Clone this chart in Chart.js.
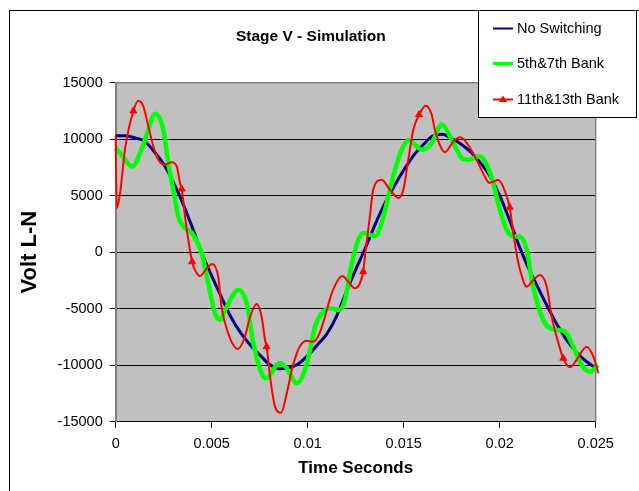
<!DOCTYPE html>
<html>
<head>
<meta charset="utf-8">
<script src="https://cdn.jsdelivr.net/npm/chart.js@4/dist/chart.umd.min.js"></script>
<style>
  html, body { margin: 0; padding: 0; background: #fff; }
  #c1 { display: block; }
</style>
</head>
<body>
<canvas id="c1" width="639" height="491"></canvas>
<script>
// values (seconds, volts)
const noSwitchTime = [0, 0.0005, 0.001, 0.0015, 0.002, 0.0025, 0.003, 0.0035, 0.004, 0.0045,
  0.005, 0.0055, 0.006, 0.0065, 0.007, 0.0075, 0.008, 0.0085, 0.009, 0.0095,
  0.01, 0.0105, 0.011, 0.0115, 0.012, 0.0125, 0.013, 0.0135, 0.014, 0.0145,
  0.015, 0.0155, 0.016, 0.0165, 0.017, 0.0175, 0.018, 0.0185, 0.019, 0.0195,
  0.02, 0.0205, 0.021, 0.0215, 0.022, 0.0225, 0.023, 0.0235, 0.024, 0.0245, 0.025];
const noSwitchVolts = [10310, 10310, 10120, 9830, 8910, 7780, 6200, 4300, 2150, -150,
  -2100, -3950, -5740, -7120, -8190, -9080, -9910, -10310, -10250, -9900,
  -9150, -8210, -7230, -5670, -3550, -1550, 350, 2400, 4250, 5830,
  7260, 8530, 9480, 10280, 10440, 10080, 9560, 8850, 7900, 6700,
  5000, 2900, 600, -1400, -3150, -4850, -6450, -7800, -8850, -9650, -10250];

const bank57Time = [0, 0.0003, 0.00085, 0.00153, 0.00206, 0.00248, 0.00274, 0.003, 0.00326, 0.00352,
  0.00404, 0.00451, 0.00482, 0.00517, 0.00543, 0.00569, 0.00639, 0.00682, 0.00717, 0.0076,
  0.00786, 0.00838, 0.00856, 0.00891, 0.00943, 0.00986, 0.01012, 0.01038, 0.01081, 0.01116,
  0.01168, 0.01194, 0.0122, 0.01246, 0.0129, 0.0135, 0.01385, 0.0142, 0.01455, 0.0149,
  0.01524, 0.01559, 0.01594, 0.01646, 0.01698, 0.01741, 0.01776, 0.01802, 0.01836, 0.01897,
  0.0195, 0.01975, 0.02001, 0.02036, 0.02071, 0.02106, 0.02141, 0.02167, 0.02201, 0.02236,
  0.02271, 0.02306, 0.02349, 0.02383, 0.02427, 0.0247, 0.02513];
const bank57Volts = [9220, 8630, 7580, 9960, 12250, 10840, 7890, 5530, 3180, 2290,
  1550, -250, -2750, -5410, -6000, -5120, -3350, -4520, -8060, -10720,
  -11160, -9980, -9830, -10270, -11600, -10430, -8660, -6590, -5270, -4970,
  -5120, -4230, -1870, 190, 1700, 1410, 2580, 4950, 7300, 9070,
  9900, 9510, 9070, 9660, 11300, 10260, 9070, 8340, 8190, 8490,
  7010, 5530, 3760, 1990, 1410, 1350, 220, -2460, -4820, -6290,
  -6800, -6890, -7180, -8360, -9980, -10580, -9980];

const bank1113Time = [0, 0.00005, 0.00023, 0.00048, 0.00092, 0.00118, 0.00144, 0.0017, 0.00196, 0.00222,
  0.00257, 0.00292, 0.00318, 0.00335, 0.00344, 0.00361, 0.00378, 0.00398, 0.00413, 0.00439,
  0.00474, 0.00503, 0.00534, 0.00551, 0.00586, 0.00635, 0.00673, 0.007, 0.00734, 0.0076,
  0.00778, 0.00786, 0.00804, 0.0083, 0.00861, 0.00891, 0.00917, 0.00943, 0.0096, 0.00995,
  0.01029, 0.01059, 0.0109, 0.01125, 0.01181, 0.01211, 0.01246, 0.01272, 0.01289, 0.01302,
  0.01324, 0.01341, 0.01385, 0.01428, 0.01472, 0.01498, 0.01524, 0.0155, 0.0158, 0.01615,
  0.01646, 0.01663, 0.01715, 0.01758, 0.01795, 0.01836, 0.0188, 0.01923, 0.01945, 0.01993,
  0.02028, 0.02052, 0.02071, 0.02089, 0.02106, 0.02141, 0.02175, 0.0221, 0.02245, 0.02271,
  0.02306, 0.02331, 0.02366, 0.024, 0.02453, 0.02488, 0.02514];
const bank1113Volts = [10300, 3900, 5240, 9070, 12500, 13400, 12910, 11140, 9370, 8190,
  7740, 7960, 7600, 6120, 5590, 3180, 1110, -840, -1580, -2110,
  -1430, -1040, -2170, -4820, -7180, -8570, -7480, -5710, -4580, -5710,
  -7770, -8360, -11020, -13670, -14200, -12490, -10430, -8950, -8300, -7830,
  -7920, -7300, -5710, -3640, -2110, -2610, -3200, -2750, -1730, 190,
  3180, 5530, 6420, 5530, 4800, 5530, 8190, 10840, 12170, 12970,
  12170, 10810, 8850, 9780, 10170, 9490, 8160, 6680, 6140, 6380,
  5370, 3970, 1700, -250, -1580, -3050, -2460, -2020, -3050, -5710,
  -8060, -9390, -10190, -9540, -8360, -9250, -10720];
const bank1113Markers = [0.00092, 0.00344, 0.00398, 0.00786, 0.01289, 0.0158, 0.02052, 0.02331];

const seriesNames = ['No Switching', '5th&7th Bank', '11th&13th Bank'];
const xTickLabels = ['0', '0.005', '0.01', '0.015', '0.02', '0.025'];

const toPoints = (times, volts) => times.map((t, i) => ({ x: t, y: volts[i] }));

Chart.defaults.font.family = "'Liberation Sans', Arial, sans-serif";
Chart.defaults.color = '#000';

const plotFrame = {
  id: 'plotFrame',
  beforeDraw(chart) {
    const { ctx, chartArea: a } = chart;
    ctx.save();
    ctx.fillStyle = '#fff';
    ctx.fillRect(0, 0, chart.width, chart.height);
    ctx.strokeStyle = '#000';
    ctx.lineWidth = 1;
    ctx.strokeRect(9.5, 10.5, 700, 600);
    ctx.fillStyle = '#c0c0c0';
    ctx.fillRect(a.left, a.top, a.right - a.left, a.bottom - a.top);
    ctx.restore();
  },
  beforeDatasetsDraw(chart) {
    const { ctx, chartArea: a } = chart;
    ctx.save();
    ctx.strokeStyle = '#808080';
    ctx.lineWidth = 1.5;
    ctx.beginPath();
    ctx.moveTo(a.left, a.top);
    ctx.lineTo(a.right, a.top);
    ctx.lineTo(a.right, a.bottom);
    ctx.stroke();
    ctx.restore();
  }
};

const boxLegend = {
  id: 'boxLegend',
  afterDraw(chart) {
    const ctx = chart.ctx;
    ctx.save();
    ctx.fillStyle = '#fff';
    ctx.fillRect(478.5, 10.5, 158, 107);
    ctx.strokeStyle = '#000';
    ctx.lineWidth = 1;
    ctx.strokeRect(478.5, 10.5, 158, 107);
    const rows = [28.5, 63.5, 99.5];
    chart.data.datasets.forEach((ds, i) => {
      const y = rows[i];
      ctx.strokeStyle = ds.borderColor;
      ctx.lineWidth = i === 1 ? 3 : 2;
      ctx.beginPath();
      ctx.moveTo(493, y);
      ctx.lineTo(513, y);
      ctx.stroke();
      if (i === 2) {
        ctx.fillStyle = ds.borderColor;
        ctx.beginPath();
        ctx.moveTo(503, y - 4);
        ctx.lineTo(507, y + 2.5);
        ctx.lineTo(499, y + 2.5);
        ctx.closePath();
        ctx.fill();
      }
      ctx.fillStyle = '#000';
      ctx.font = "14.5px 'Liberation Sans', Arial, sans-serif";
      ctx.textBaseline = 'middle';
      ctx.textAlign = 'left';
      ctx.fillText(ds.label, 517, y);
    });
    ctx.restore();
  }
};

new Chart(document.getElementById('c1'), {
  type: 'line',
  data: {
    datasets: [
      {
        label: seriesNames[0],
        data: toPoints(noSwitchTime, noSwitchVolts),
        borderColor: '#000080',
        borderWidth: 3,
        pointRadius: 0,
        cubicInterpolationMode: 'monotone',
        order: 3,
        clip: 5
      },
      {
        label: seriesNames[1],
        data: toPoints(bank57Time, bank57Volts),
        borderColor: '#00ff00',
        borderWidth: 4.5,
        pointRadius: 0,
        cubicInterpolationMode: 'monotone',
        order: 2,
        clip: 5
      },
      {
        label: seriesNames[2],
        data: toPoints(bank1113Time, bank1113Volts),
        borderColor: '#ff0000',
        backgroundColor: '#ff0000',
        borderWidth: 2,
        pointStyle: 'triangle',
        pointRadius: c => (c.raw && bank1113Markers.includes(c.raw.x)) ? 4 : 0,
        pointBorderWidth: 1,
        cubicInterpolationMode: 'monotone',
        order: 1,
        clip: 5
      }
    ]
  },
  options: {
    responsive: false,
    animation: false,
    layout: { padding: { left: 26, right: 43.3, top: 0, bottom: 0 } },
    plugins: {
      legend: { display: false },
      tooltip: { enabled: false },
      title: {
        display: true,
        text: 'Stage V - Simulation',
        font: { size: 15.5, weight: 'bold' },
        padding: { top: 27, bottom: 37.1 }
      }
    },
    scales: {
      x: {
        type: 'linear',
        min: 0,
        max: 0.025,
        afterFit: s => { s.height = 69.3; },
        ticks: {
          stepSize: 0.005,
          padding: 8,
          font: { size: 14.5 },
          maxRotation: 0,
          callback: (v, i) => xTickLabels[i]
        },
        grid: { drawOnChartArea: false, tickLength: 6, color: '#000' },
        border: { color: '#000', width: 1 },
        title: {
          display: true,
          text: 'Time Seconds',
          font: { size: 17, weight: 'bold' },
          padding: { top: 0, bottom: 12.8 }
        }
      },
      y: {
        min: -15000,
        max: 15000,
        afterFit: s => { s.width = 89.7; },
        ticks: {
          stepSize: 5000,
          padding: 7,
          font: { size: 14.5 },
          callback: v => String(v)
        },
        grid: { color: '#000', lineWidth: 1, tickLength: 6 },
        border: { color: '#808080', width: 2 },
        title: {
          display: true,
          text: 'Volt L-N',
          font: { size: 22, weight: 'bold' },
          padding: { top: -9, bottom: 0 }
        }
      }
    }
  },
  plugins: [plotFrame, boxLegend]
});
</script>
</body>
</html>
